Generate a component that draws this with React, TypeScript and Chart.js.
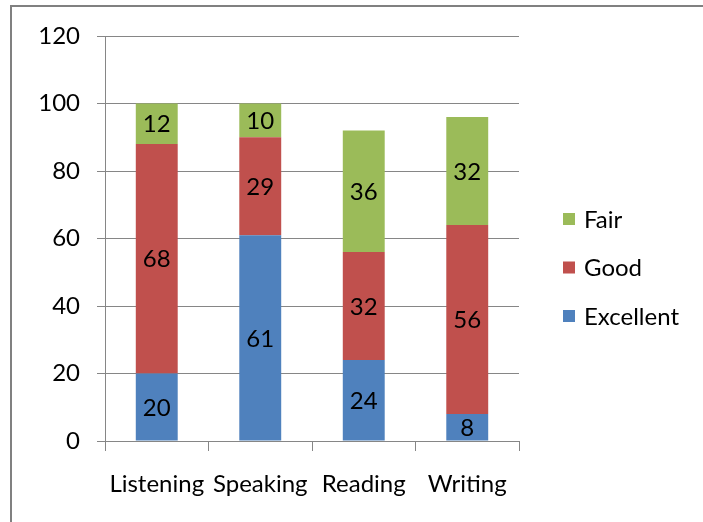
import { useEffect, useRef } from "react";
import { Chart, registerables } from "chart.js";

Chart.register(...registerables);

// Skill categories and the share of ratings in each band
const categories = ["Listening", "Speaking", "Reading", "Writing"];
const excellent = [20, 61, 24, 8];
const good = [68, 29, 32, 56];
const fair = [12, 10, 36, 32];
const yTickValues = [0, 20, 40, 60, 80, 100, 120];

const FONT = "Lato, 'Open Sans', sans-serif";
const GRID = "#868686";

// Writes each segment's value in the middle of its bar piece
const segmentLabels = {
  id: "segmentLabels",
  afterDatasetsDraw(chart: any) {
    const ctx = chart.ctx;
    ctx.save();
    ctx.font = `24px ${FONT}`;
    ctx.fillStyle = "#000";
    ctx.textAlign = "center";
    ctx.textBaseline = "middle";
    chart.data.datasets.forEach((ds: any, di: number) => {
      const meta = chart.getDatasetMeta(di);
      meta.data.forEach((bar: any, i: number) => {
        const v = ds.data[i];
        const cy = (bar.y + bar.base) / 2;
        ctx.fillText(String(v), bar.x, cy + 1);
      });
    });
    ctx.restore();
  },
};

// Legend on the right, listed top to bottom in reverse stacking order
const sideLegend = {
  id: "sideLegend",
  afterDraw(chart: any) {
    const ctx = chart.ctx;
    const area = chart.chartArea;
    const x0 = area.right + 44;
    const y0 = 219;
    const gap = 48.5;
    ctx.save();
    ctx.font = `24px ${FONT}`;
    ctx.textAlign = "left";
    ctx.textBaseline = "middle";
    const items = chart.data.datasets.slice().reverse();
    items.forEach((ds: any, i: number) => {
      const cy = y0 + i * gap;
      ctx.fillStyle = ds.backgroundColor;
      ctx.fillRect(x0, cy - 6, 12, 12);
      ctx.fillStyle = "#000";
      ctx.fillText(ds.label, x0 + 21, cy + 1);
    });
    ctx.restore();
  },
};

export default function App() {
  const ref = useRef<HTMLCanvasElement | null>(null);

  useEffect(() => {
    if (!ref.current) return;
    const chart = new Chart(ref.current, {
      type: "bar",
      data: {
        labels: categories,
        datasets: [
          { label: "Excellent", data: excellent, backgroundColor: "#4F81BD" },
          { label: "Good", data: good, backgroundColor: "#C0504D" },
          { label: "Fair", data: fair, backgroundColor: "#9BBB59" },
        ],
      },
      options: {
        animation: false,
        responsive: false,
        devicePixelRatio: 1,
        layout: { padding: { top: 36, right: 184, left: 0, bottom: 0 } },
        datasets: { bar: { categoryPercentage: 1, barPercentage: 0.405 } },
        plugins: { legend: { display: false }, tooltip: { enabled: false } },
        scales: {
          x: {
            stacked: true,
            afterFit: (s: any) => {
              s.height = 81;
            },
            grid: {
              offset: true,
              drawOnChartArea: false,
              drawTicks: true,
              tickLength: 10,
              color: GRID,
            },
            border: { color: GRID },
            ticks: { color: "#000", font: { family: FONT, size: 24 }, padding: 19 },
          },
          y: {
            stacked: true,
            min: 0,
            max: 120,
            afterFit: (s: any) => {
              s.width = 105;
            },
            afterBuildTicks: (s: any) => {
              s.ticks = yTickValues.map((v) => ({ value: v }));
            },
            grid: { color: GRID, tickLength: 8 },
            border: { color: GRID },
            ticks: { color: "#000", font: { family: FONT, size: 24 }, padding: 17 },
          },
        },
      },
      plugins: [segmentLabels, sideLegend],
    });
    return () => chart.destroy();
  }, []);

  return (
    <div style={{ position: "fixed", left: 0, top: 0, width: 703, height: 522, background: "#fff" }}>
      <div
        style={{
          position: "absolute",
          left: 10,
          top: 5,
          right: 0,
          bottom: 0,
          borderLeft: "2px solid #808080",
          borderTop: "2px solid #808080",
        }}
      />
      <canvas ref={ref} width={703} height={522} style={{ position: "absolute", left: 0, top: 0, display: "block" }} />
    </div>
  );
}
